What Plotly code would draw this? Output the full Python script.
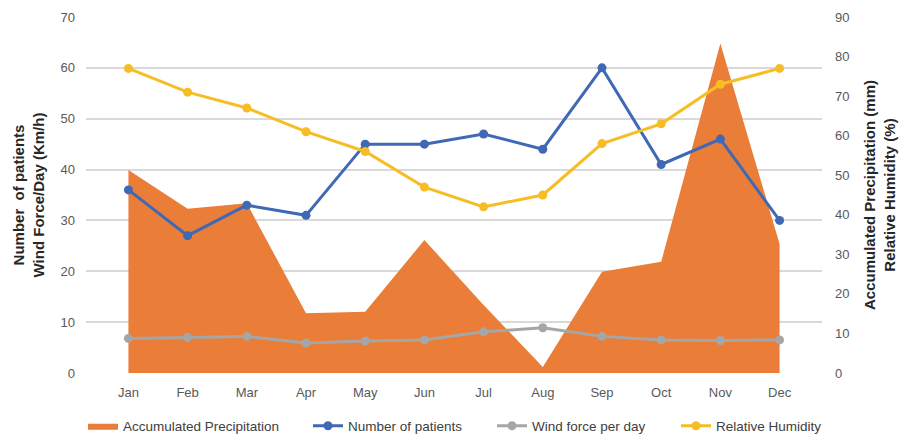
import plotly.graph_objects as go

months = ["Jan", "Feb", "Mar", "Apr", "May", "Jun",
          "Jul", "Aug", "Sep", "Oct", "Nov", "Dec"]

precipitation_mm = [51.3, 41.5, 42.9, 15.1, 15.5, 33.6,
                    17.2, 1.5, 25.6, 28.1, 83.3, 32.6]
patients = [36, 27, 33, 31, 45, 45, 47, 44, 60, 41, 46, 30]
wind_kmh = [6.8, 7.0, 7.2, 5.9, 6.3, 6.5, 8.1, 8.9, 7.2, 6.5, 6.4, 6.5]
humidity_pct = [77, 71, 67, 61, 56, 47, 42, 45, 58, 63, 73, 77]

left_ticks = [0, 10, 20, 30, 40, 50, 60, 70]
right_ticks = [0, 10, 20, 30, 40, 50, 60, 70, 80, 90]

ORANGE = "#EA7D37"
BLUE = "#3F68B5"
GRAY = "#A6A6A6"
YELLOW = "#F6BD25"
FONT = "Liberation Sans, Arial, sans-serif"
TICK_COLOR = "#595959"

W, H = 903, 438
L, R, T, B = 86, 81, 17, 65

fig = go.Figure()

# Precipitation area on the base (right-hand) axis so it sits beneath the lines
fig.add_trace(go.Scatter(
    x=months, y=precipitation_mm, name="Accumulated Precipitation",
    mode="lines", fill="tozeroy", fillcolor=ORANGE,
    line=dict(color=ORANGE, width=0), yaxis="y", legend="legend",
    showlegend=True,
))

line_style = dict(width=3)
marker_style = dict(size=9)

fig.add_trace(go.Scatter(
    x=months, y=patients, name="Number of patients",
    mode="lines+markers", line=dict(color=BLUE, **line_style),
    marker=dict(color=BLUE, **marker_style), yaxis="y2", legend="legend2",
    showlegend=True,
))
fig.add_trace(go.Scatter(
    x=months, y=wind_kmh, name="Wind force per day",
    mode="lines+markers", line=dict(color=GRAY, **line_style),
    marker=dict(color=GRAY, **marker_style), yaxis="y2", legend="legend3",
    showlegend=True,
))
fig.add_trace(go.Scatter(
    x=months, y=humidity_pct, name="Relative Humidity",
    mode="lines+markers", line=dict(color=YELLOW, **line_style),
    marker=dict(color=YELLOW, **marker_style), yaxis="y3", legend="legend4",
    showlegend=True,
))

tick_font = dict(family=FONT, size=13, color=TICK_COLOR)
title_font = dict(family=FONT, size=15, color="#262626")
legend_font = dict(family=FONT, size=13.5, color="#404040")

# Legends are positioned in container coordinates so they don't move the plot area
legend_common = dict(orientation="h", xref="container", yref="container",
                     yanchor="middle", y=1 - 426 / H,
                     xanchor="left", font=legend_font,
                     bgcolor="rgba(0,0,0,0)", borderwidth=0)

fig.update_layout(
    width=W, height=H,
    showlegend=True,
    margin=dict(l=L, r=R, t=T, b=B, pad=0, autoexpand=False),
    paper_bgcolor="white", plot_bgcolor="white",
    font=dict(family=FONT),
    xaxis=dict(
        type="category", categoryorder="array", categoryarray=months,
        showgrid=False, showline=False, zeroline=False,
        tickfont=tick_font, ticks="", ticklabelstandoff=10,
    ),
    yaxis=dict(
        side="right", range=[0, 90], tickvals=right_ticks,
        showgrid=False, zeroline=False, showline=False,
        tickfont=tick_font, ticks="", ticklabelstandoff=12,
        title=dict(text="<b>Accumulated Precipitation (mm)<br>Relative Humidity (%)</b>",
                   font=title_font, standoff=16),
    ),
    yaxis2=dict(
        overlaying="y", side="left", range=[0, 70], tickvals=left_ticks,
        showgrid=True, gridcolor="#D9D9D9", gridwidth=1.5,
        zeroline=False, showline=False,
        tickfont=tick_font, ticks="", ticklabelstandoff=10,
        title=dict(text="<b>Number  of patients<br>Wind Force/Day (Km/h)</b>",
                   font=title_font, standoff=12),
    ),
    yaxis3=dict(
        overlaying="y", side="right", range=[0, 90],
        showgrid=False, zeroline=False, showline=False,
        showticklabels=False, ticks="",
    ),
    legend=dict(x=83 / W, **legend_common),
    legend2=dict(x=308 / W, **legend_common),
    legend3=dict(x=492 / W, **legend_common),
    legend4=dict(x=676 / W, **legend_common),
)

fig.write_html("out.html")
